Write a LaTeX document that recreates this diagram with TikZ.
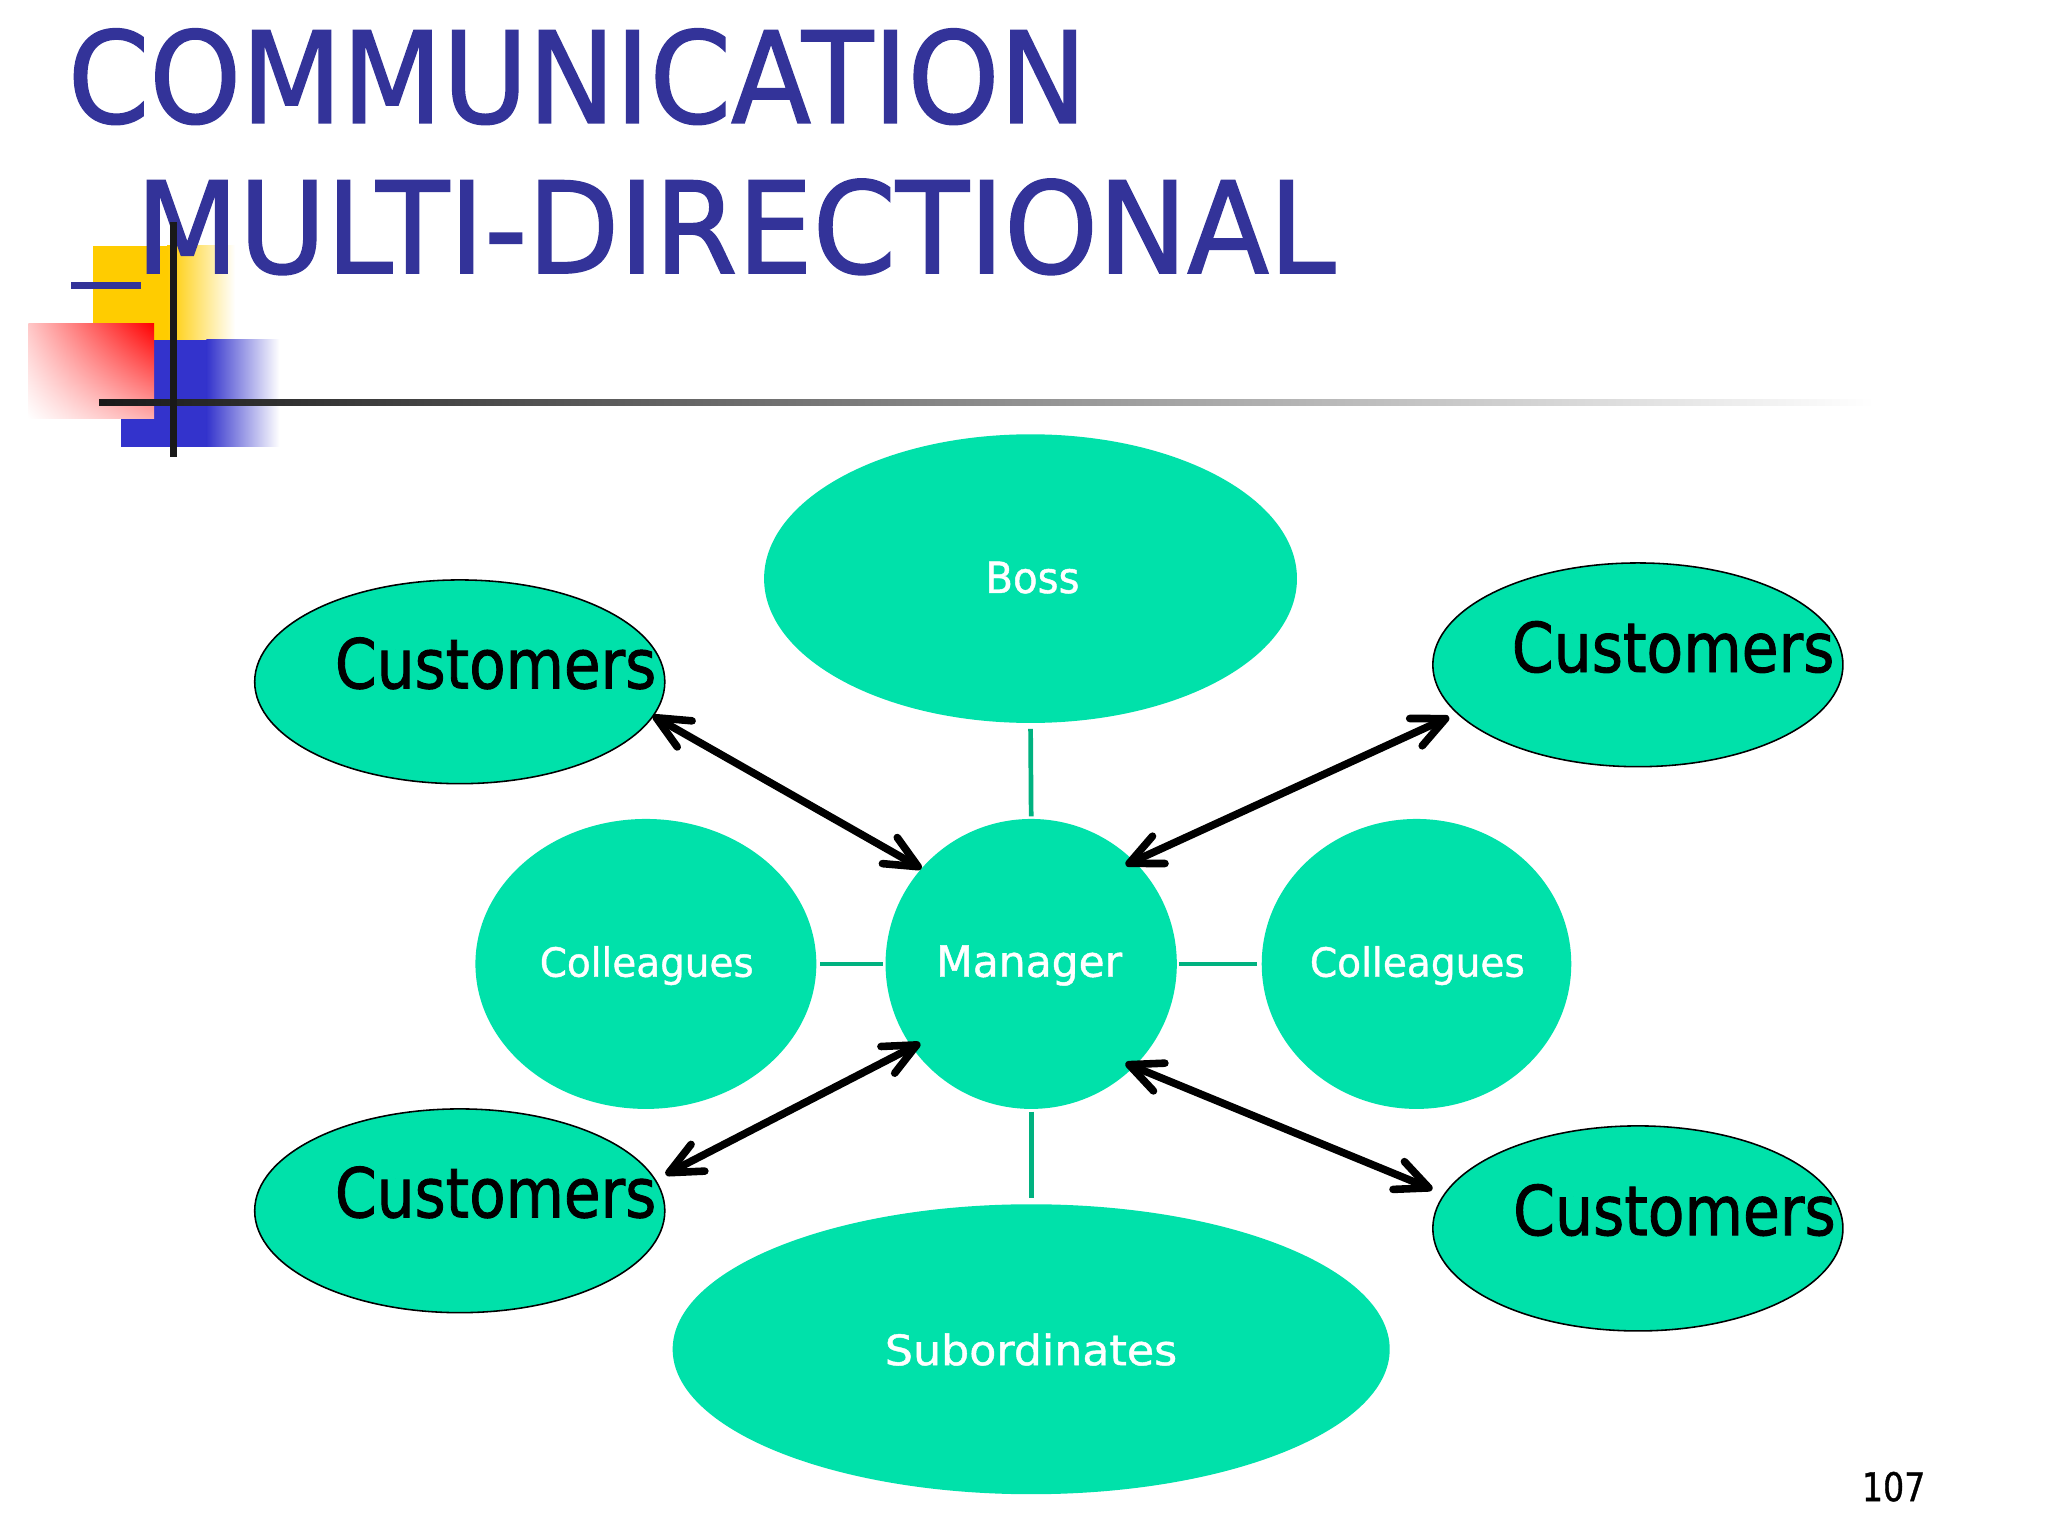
\documentclass[tikz,border=0pt]{standalone}
\usepackage{fontspec}
\setmainfont[FakeBold=1]{DejaVu Sans}
\newfontfamily\heavyfont[FakeBold=1.4]{DejaVu Sans}
\usetikzlibrary{shapes.geometric,arrows.meta,shadings}
\definecolor{bubblefill}{RGB}{0,225,170}
\definecolor{linkteal}{RGB}{0,178,128}
\definecolor{titleblue}{RGB}{51,51,153}
\definecolor{decoyellow}{RGB}{255,204,0}
\definecolor{decoblue}{RGB}{51,51,204}
\definecolor{decored}{RGB}{255,0,0}
\tikzset{
  bubble/.style={ellipse, fill=bubblefill, inner sep=0pt, outer sep=0pt},
  custbubble/.style={bubble, draw=black, line width=1.2pt},
  lbl/.style={anchor=base west, inner sep=0pt, outer sep=0pt},
  link/.style={draw=linkteal, line width=3.6pt},
  twoway/.style={line width=5.8pt, line cap=round,
    >={Straight Barb[length=25pt,width=23pt,round]}, <->},
}
\begin{document}
\begin{tikzpicture}[x=1pt,y=-1pt]
\fill[white] (0,0) rectangle (1568,1176);
\useasboundingbox (0,0) rectangle (1568,1176);

% decoration
\fill[decoyellow] (71.5,188) rectangle (128.5,260);
\shade[left color=decoyellow, right color=white] (128,188) rectangle (180,260);
\fill[decoblue] (92.4,260.3) rectangle (158.5,342);
\shade[left color=decoblue, right color=white] (158,260.3) rectangle (214,342);
\shade[upper right=decored, upper left=decored!22!white,
       lower right=decored!32!white, lower left=white] (21.7,248) rectangle (118,320.3);

% title
\node[lbl, text=titleblue, font=\heavyfont] (title1) at (52,94) {\resizebox{780pt}{72pt}{COMMUNICATION}};
\node[lbl, text=titleblue, font=\heavyfont] (title2) at (104,209) {\resizebox{918pt}{72pt}{MULTI-DIRECTIONAL}};
\fill[titleblue] (54,216) rectangle (108,221.3);

% rules
\shade[left color=black!90, middle color=black!48, right color=white] (75.8,305.8) rectangle (1435,310.8);
\fill[black!90] (130.1,170) rectangle (135.5,350);

% bubbles
\node[bubble, minimum width=408pt, minimum height=221pt] (boss) at (789,443) {};
\node[custbubble, minimum width=314pt, minimum height=156pt] (ctl) at (352,522) {};
\node[custbubble, minimum width=314pt, minimum height=156pt] (ctr) at (1254,509) {};
\node[custbubble, minimum width=314pt, minimum height=156pt] (cbl) at (352,927) {};
\node[custbubble, minimum width=314pt, minimum height=157pt] (cbr) at (1254,940.5) {};
\node[bubble, minimum width=261pt, minimum height=222pt] (coll) at (494.5,738) {};
\node[bubble, minimum width=237pt, minimum height=222pt] (colr) at (1084.5,738) {};
\node[bubble, minimum width=223pt, minimum height=222pt] (mgr) at (789.5,738) {};
\node[bubble, minimum width=549pt, minimum height=222pt] (sub) at (789.5,1033) {};

% labels
\node[lbl, text=white] (tboss) at (754.5,454) {\resizebox{72pt}{24pt}{Boss}};
\node[lbl, text=white] (tcoll) at (413.3,747.8) {\resizebox{163.7pt}{23.4pt}{Colleagues}};
\node[lbl, text=white] (tcolr) at (1002.9,747.8) {\resizebox{164.5pt}{23.4pt}{Colleagues}};
\node[lbl, text=white] (tmgr) at (716.8,747.8) {\resizebox{142.3pt}{24pt}{Manager}};
\node[lbl, text=white] (tsub) at (677.5,1045.2) {\resizebox{223.7pt}{24.4pt}{Subordinates}};
\node[lbl, font=\heavyfont] (tctl) at (256.5,527) {\resizebox{246pt}{39pt}{Customers}};
\node[lbl, font=\heavyfont] (tctr) at (1157.5,514.5) {\resizebox{247pt}{39pt}{Customers}};
\node[lbl, font=\heavyfont] (tcbl) at (256.5,932) {\resizebox{246pt}{39pt}{Customers}};
\node[lbl, font=\heavyfont] (tcbr) at (1158.5,945.6) {\resizebox{247pt}{39pt}{Customers}};
\node[lbl] (pnum) at (1425.5,1149.3) {\resizebox{48.6pt}{22.5pt}{107}};

% links
\draw[link, shorten <=4.5pt, shorten >=2pt] (boss.south) -- (mgr.north);
\draw[link, shorten <=2pt, shorten >=5pt] (mgr.south) -- (sub.north);
\draw[link, shorten <=3pt, shorten >=2pt] (coll.east) -- (mgr.west);
\draw[link, shorten <=2pt, shorten >=4pt] (mgr.east) -- (colr.west);

% arrows
\draw[twoway] (ctl.-10.7) -- (mgr.139);
\draw[twoway, shorten <=7pt, shorten >=-7pt] (ctr.195.3) -- (mgr.45);
\draw[twoway, shorten <=9pt, shorten >=-7pt] (cbl.9.6) -- (mgr.215.5);
\draw[twoway, shorten <=10pt, shorten >=-7pt] (cbr.170) -- (mgr.315.4);
\end{tikzpicture}
\end{document}
